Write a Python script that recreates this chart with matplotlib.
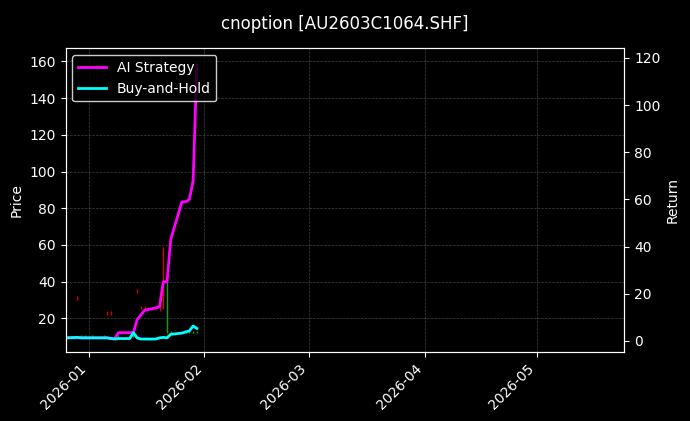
import matplotlib
matplotlib.use("Agg")
import matplotlib.pyplot as plt
import matplotlib.dates as mdates
import pandas as pd

dates = pd.to_datetime(["2025-12-26","2025-12-29","2025-12-30","2025-12-31","2026-01-02","2026-01-05",
    "2026-01-06","2026-01-07","2026-01-08","2026-01-09","2026-01-12","2026-01-13","2026-01-14",
    "2026-01-15","2026-01-16","2026-01-19","2026-01-20","2026-01-21","2026-01-22","2026-01-23",
    "2026-01-26","2026-01-27","2026-01-28","2026-01-29","2026-01-30"])
ai_ret = [1.3,1.3,1.3,1.3,1.3,1.3,1.3,1,1,3.5,3.5,3.5,9,11,13,14,14.5,25,25,43,59,59,60,68,117]
bh_ret = [1.3,1.5,1.3,1.3,1.3,1.3,1.3,1,0.8,1,1,3.5,1.3,0.8,0.8,0.8,1.3,1.5,1.3,2.8,3.3,3.8,4.3,6.3,5.3]
# candle high/low (price)
c_low  = [10,30,10,10,10,10,22,22,10,10,10,10,34,25,25,25,24,25,12,12,12,12,12,12,12]
c_high = [11,32,11,11,11,11,24,24,11,11,11,11,36,27,27,27,26,59,40,13,13,13,13,13,13]
c_up   = [1,0,1,1,1,1,0,0,1,1,1,1,0,0,0,0,0,0,1,1,1,1,1,1,1]

plt.style.use("dark_background")
fig, ax = plt.subplots(figsize=(6.9,4.21), dpi=100)
fig.patch.set_facecolor("black")
ax.set_facecolor("black")
for d,l,h,u in zip(dates,c_low,c_high,c_up):
    ax.vlines(d,l,h,color="#00aa00" if u else "#dd0000",linewidth=1.0)
ax.set_ylim(2,167)
ax.set_ylabel("Price")
ax.grid(True,color="gray",linestyle="--",linewidth=0.5,alpha=0.5)
ax2 = ax.twinx()
l1, = ax2.plot(dates,ai_ret,color="magenta",linewidth=2,label="AI Strategy")
l2, = ax2.plot(dates,bh_ret,color="cyan",linewidth=2,label="Buy-and-Hold")
ax2.set_ylim(-4.5,124)
ax2.set_ylabel("Return")
ax.set_xlim(pd.Timestamp("2025-12-25 20:00"),pd.Timestamp("2026-05-24 12:00"))
ax.xaxis.set_major_locator(mdates.MonthLocator())
ax.xaxis.set_major_formatter(mdates.DateFormatter("%Y-%m"))
plt.setp(ax.get_xticklabels(),rotation=45,ha="right")
ax2.legend(handles=[l1,l2],loc="upper left",facecolor="black",edgecolor="white")
fig.suptitle("cnoption [AU2603C1064.SHF]",color="white",y=0.965)
fig.subplots_adjust(left=0.095,right=0.905,top=0.885,bottom=0.165)
fig.savefig("out.png",dpi=100,facecolor="black")
